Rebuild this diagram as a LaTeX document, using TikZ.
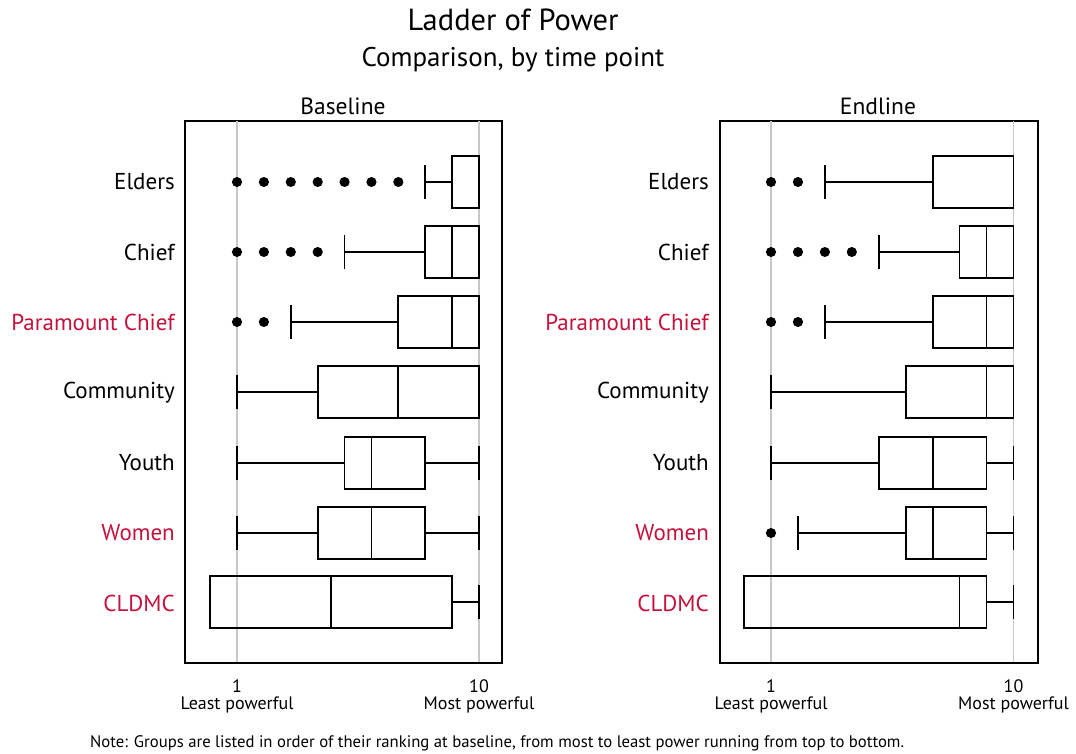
\documentclass[tikz,border=0pt]{standalone}
\usepackage{fontspec}
\setmainfont{PT Sans}
\definecolor{lblred}{RGB}{196,18,60}
\definecolor{gridgray}{RGB}{200,200,200}
\tikzset{
  boxline/.style={line width=1.8pt, black},
  frameline/.style={line width=1.4pt, black},
  gridline/.style={line width=1.6pt, gridgray},
  outdot/.style={fill=black, draw=none},
  rowlbl/.style={anchor=east, font=\fontsize{23}{27}\selectfont, inner sep=0pt},
  ticklbl/.style={anchor=base, font=\fontsize{18}{21}\selectfont, inner sep=0pt},
}
\newcommand\bxrow[6]{% y, lowcap, q1, med, q3, hicap
  \draw[boxline] (#3,#1-26) rectangle (#5,#1+26);
  \draw[boxline] (#4,#1-26) -- (#4,#1+26);
  \draw[boxline] (#2,#1) -- (#3,#1);
  \draw[boxline] (#2,#1-17) -- (#2,#1+17);
  \draw[boxline] (#5,#1) -- (#6,#1);
  \draw[boxline] (#6,#1-17) -- (#6,#1+17);
}
\newcommand\outpt[2]{\fill[outdot] (#2,#1) ellipse [x radius=0.19, y radius=5];}
\begin{document}
\begin{tikzpicture}[x=1pt,y=-1pt]
\useasboundingbox (0,0) rectangle (1076,754);
\node[font=\fontsize{30.5}{34}\selectfont] (title) at (513,20) {Ladder of Power};
\node[font=\fontsize{27}{31}\selectfont] (sub) at (513,60) {Comparison, by time point};
\node[font=\fontsize{23.5}{27}\selectfont] (tb) at (343,106) {Baseline};
\node[font=\fontsize{23.5}{27}\selectfont] (te) at (878,106) {Endline};

% ---------- Baseline panel ----------
\draw[frameline] (185,121) rectangle (502,663);
\draw[gridline] (237,121) -- (237,663);
\draw[gridline] (479,121) -- (479,663);
\draw[frameline] (185,663) -- (502,663);
\begin{scope}[x=26.89pt, xshift=210.11pt]
  \bxrow{182}{8}{9}{10}{10}{10}
  \foreach \v in {1,...,7} {\outpt{182}{\v}}
  \bxrow{252}{5}{8}{9}{10}{10}
  \foreach \v in {1,...,4} {\outpt{252}{\v}}
  \bxrow{322}{3}{7}{9}{10}{10}
  \foreach \v in {1,2} {\outpt{322}{\v}}
  \bxrow{392}{1}{4}{7}{10}{10}
  \bxrow{463}{1}{5}{6}{8}{10}
  \bxrow{533}{1}{4}{6}{8}{10}
  \bxrow{602}{0}{0}{4.5}{9}{10}
\end{scope}
\node[rowlbl] (b1) at (175,182) {Elders};
\node[rowlbl] (b2) at (175,252) {Chief};
\node[rowlbl, text=lblred] (b3) at (175,322) {Paramount Chief};
\node[rowlbl] (b4) at (175,393) {Community};
\node[rowlbl] (b5) at (175,463) {Youth};
\node[rowlbl, text=lblred] (b6) at (175,533) {Women};
\node[rowlbl, text=lblred] (b7) at (175,603) {CLDMC};
\node[ticklbl] (bt1) at (237,692) {1};
\node[ticklbl] (bt10) at (479,692) {10};
\node[ticklbl] (bl1) at (237,709) {Least powerful};
\node[ticklbl] (bl10) at (479,709) {Most powerful};

% ---------- Endline panel ----------
\draw[frameline] (720,121) rectangle (1038,663);
\draw[gridline] (771,121) -- (771,663);
\draw[gridline] (1013.5,121) -- (1013.5,663);
\draw[frameline] (720,663) -- (1038,663);
\begin{scope}[x=26.94pt, xshift=744.06pt]
  \bxrow{182}{3}{7}{10}{10}{10}
  \foreach \v in {1,2} {\outpt{182}{\v}}
  \bxrow{252}{5}{8}{9}{10}{10}
  \foreach \v in {1,...,4} {\outpt{252}{\v}}
  \bxrow{322}{3}{7}{9}{10}{10}
  \foreach \v in {1,2} {\outpt{322}{\v}}
  \bxrow{392}{1}{6}{9}{10}{10}
  \bxrow{463}{1}{5}{7}{9}{10}
  \bxrow{533}{2}{6}{7}{9}{10}
  \outpt{533}{1}
  \bxrow{602}{0}{0}{8}{9}{10}
\end{scope}
\node[rowlbl] (e1) at (709,182) {Elders};
\node[rowlbl] (e2) at (709,252) {Chief};
\node[rowlbl, text=lblred] (e3) at (709,322) {Paramount Chief};
\node[rowlbl] (e4) at (709,393) {Community};
\node[rowlbl] (e5) at (709,463) {Youth};
\node[rowlbl, text=lblred] (e6) at (709,533) {Women};
\node[rowlbl, text=lblred] (e7) at (709,603) {CLDMC};
\node[ticklbl] (et1) at (771,692) {1};
\node[ticklbl] (et10) at (1013.5,692) {10};
\node[ticklbl] (el1) at (771,709) {Least powerful};
\node[ticklbl] (el10) at (1013.5,709) {Most powerful};

\node[font=\fontsize{16.7}{19}\selectfont, anchor=west, inner sep=0pt] (note) at (90,743) {Note: Groups are listed in order of their ranking at baseline, from most to least power running from top to bottom.};
\end{tikzpicture}
\end{document}
